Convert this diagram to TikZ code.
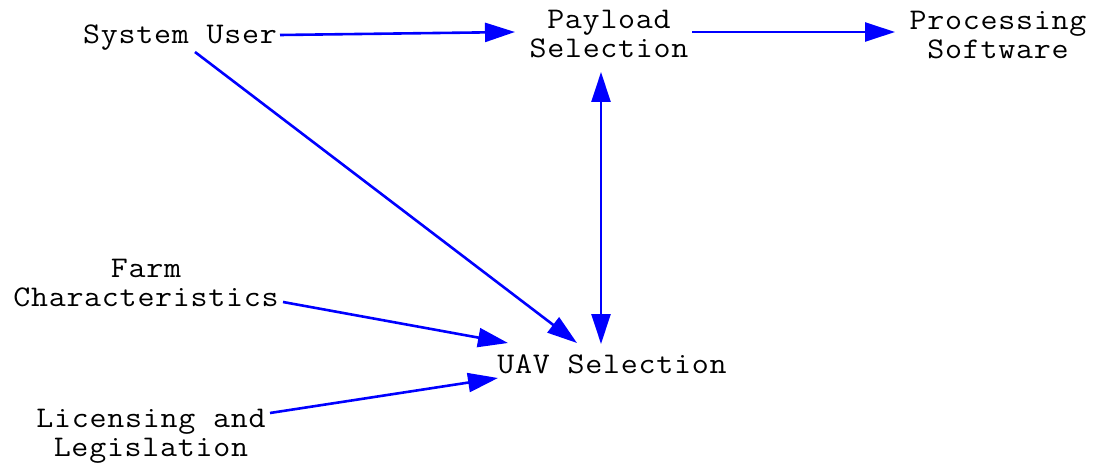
\documentclass[tikz,border=0pt]{standalone}
\usepackage{fontspec}
\setmainfont{Latin Modern Mono}[FakeStretch=1.1,LetterSpace=2.5]
\usetikzlibrary{arrows.meta,calc}
\definecolor{arrowblue}{RGB}{0,0,255}
\tikzset{
  lbl/.style={inner sep=0pt, align=center, font=\fontsize{30}{29}\selectfont},
  conn/.style={draw=arrowblue, line width=2.6pt, -{Triangle[length=30pt,width=19pt]}},
  bconn/.style={draw=arrowblue, line width=2.6pt, {Triangle[length=30pt,width=19pt]}-{Triangle[length=30pt,width=19pt]}}
}
\begin{document}
\begin{tikzpicture}[x=1pt,y=-1pt]
\useasboundingbox (0,0) rectangle (1095,468);
\node[lbl] (su) at (180,38) {System User};
\node[lbl] (ps) at (609,34) {Payload\\Selection};
\node[lbl] (pr) at (998,35) {Processing\\Software};
\node[lbl] (fc) at (146,283) {Farm\\Characteristics};
\node[lbl] (uav) at (612,364) {UAV Selection};
\node[lbl] (ll) at (151,436) {Licensing and\\Legislation};

\draw[conn] ($(su.center)+(100,-3)$) -- ($(ps.center)+(-94,-2)$);
\draw[conn] ($(ps.center)+(83,-2)$) -- ($(pr.center)+(-103,-3)$);
\draw[bconn] ($(ps.center)+(-8,38)$) -- ($(uav.center)+(-11,-20)$);
\draw[conn] ($(su.center)+(15,14)$) -- ($(uav.center)+(-35,-21)$);
\draw[conn] ($(fc.center)+(137,19)$) -- ($(uav.center)+(-104,-21)$);
\draw[conn] ($(ll.center)+(119,-23)$) -- ($(uav.center)+(-114,14)$);
\end{tikzpicture}
\end{document}
